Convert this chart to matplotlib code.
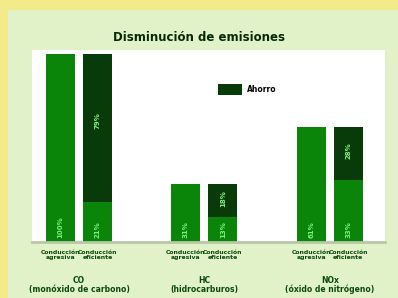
import matplotlib.pyplot as plt
from matplotlib.patches import Rectangle
import numpy as np

groups = ["CO\n(monóxido de carbono)", "HC\n(hidrocarburos)", "NOx\n(óxido de nitrógeno)"]
bar_names = ["Conducción\nagresiva", "Conducción\neficiente"]
agresiva = [100, 31, 61]
eficiente = [21, 13, 33]
ahorro = [a - e for a, e in zip(agresiva, eficiente)]

green = "#0a850a"
dark = "#093a09"
label_col = "#7cf07c"
text_col = "#0a4a0a"

fig = plt.figure(figsize=(3.98, 2.98), dpi=100)
fig.patch.set_facecolor("#f3ea8a")
fig.patches.append(Rectangle((0.02, 0.0), 0.98, 0.965, transform=fig.transFigure,
                             facecolor="#e2f2c8", edgecolor="none", zorder=-1))

ax = fig.add_axes([0.08, 0.188, 0.887, 0.645])
ax.set_facecolor("white")

x = np.arange(len(groups))
off = 0.148
w = 0.232
b1 = ax.bar(x - off, agresiva, w, color=green)
b2 = ax.bar(x + off, eficiente, w, color=green)
b3 = ax.bar(x + off, ahorro, w, bottom=eficiente, color=dark, label="Ahorro")

for i in range(len(groups)):
    ax.text(x[i] - off, 2, f"{agresiva[i]}%", rotation=90, ha="center", va="bottom",
            color=label_col, fontsize=5, fontweight="bold")
    ax.text(x[i] + off, 2, f"{eficiente[i]}%", rotation=90, ha="center", va="bottom",
            color=label_col, fontsize=5, fontweight="bold")
    ax.text(x[i] + off, eficiente[i] + ahorro[i] * 0.55, f"{ahorro[i]}%", rotation=90,
            ha="center", va="center", color=label_col, fontsize=5, fontweight="bold")

ax.set_xlim(-0.376, 2.44)
ax.set_ylim(0, 102)
ax.set_xticks([])
ax.set_yticks([])
for s in ax.spines.values():
    s.set_visible(False)
ax.spines["bottom"].set_visible(True)
ax.spines["bottom"].set_color("#b8c8a8")
ax.spines["bottom"].set_linewidth(2)

for i in range(len(groups)):
    for j, xx in enumerate([x[i] - off, x[i] + off]):
        ax.text(xx, -4, bar_names[j], ha="center", va="top", fontsize=4.4,
                fontweight="heavy", color=text_col, linespacing=1.1)
    ax.text(x[i], -18, groups[i], ha="center", va="top", fontsize=5.5,
            fontweight="heavy", color=text_col, linespacing=1.0)

ax.legend(loc="center", bbox_to_anchor=(0.61, 0.795), frameon=False,
          handlelength=3.2, handleheight=1.9, handletextpad=0.6,
          prop={"weight": "bold", "size": 5.5})

fig.text(0.5, 0.875, "Disminución de emisiones", ha="center", va="center",
         fontsize=8.5, fontweight="heavy", color="#062806")

fig.savefig("out.png", dpi=100, facecolor=fig.get_facecolor())
